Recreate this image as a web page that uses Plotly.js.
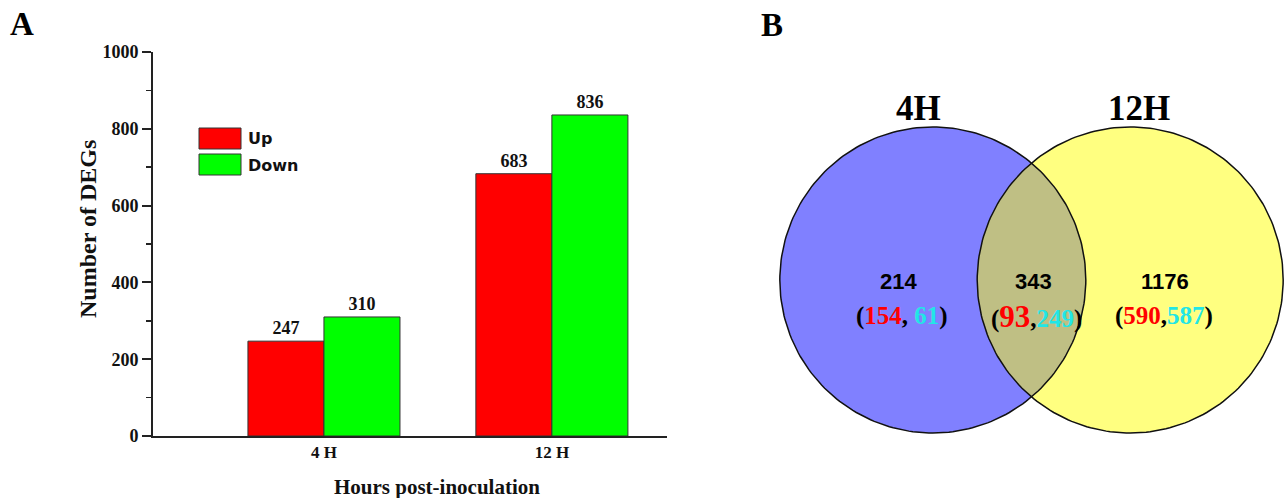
<!DOCTYPE html>
<html>
<head>
<meta charset="utf-8">
<script src="https://cdn.plot.ly/plotly-3.0.1.min.js"></script>
<style>html,body{margin:0;padding:0;background:#fff;}#chart{width:1285px;height:498px;}</style>
</head>
<body>
<div id="chart"></div>
<script>
// ---- Data ----
const categories = ['4 H', '12 H'];
const upCounts = [247, 683];
const downCounts = [310, 836];
const seriesNames = ['Up', 'Down'];

const vennSets = ['4H', '12H'];
const vennTotals = [214, 343, 1176];        // only 4H, both, only 12H
const vennUp = [154, 93, 590];
const vennDown = [61, 249, 587];

// ---- Layout helpers (pixel -> paper) ----
const W = 1285, H = 498;
const px = x => x / W;
const py = y => 1 - y / H;
const serif = 'Liberation Serif, Times New Roman, serif';

const traces = [];
traces.push({
  type: 'bar', x: categories, y: upCounts, name: seriesNames[0],
  marker: {color: '#ff0000', line: {color: '#333', width: 1}},
  text: upCounts.map(String), textposition: 'outside', cliponaxis: false,
  textfont: {family: serif, size: 18, color: '#111', weight: 'bold'},
  xaxis: 'x', yaxis: 'y', hoverinfo: 'skip'
});
traces.push({
  type: 'bar', x: categories, y: downCounts, name: seriesNames[1],
  marker: {color: '#00ff00', line: {color: '#333', width: 1}},
  text: downCounts.map(String), textposition: 'outside', cliponaxis: false,
  textfont: {family: serif, size: 18, color: '#111', weight: 'bold'},
  xaxis: 'x', yaxis: 'y', hoverinfo: 'skip'
});

// ---- Venn geometry (unit radius, 1 unit = 153 px) ----
const R = 1, half = 0.645;
const centers = [-half, half];
function arc(cx, cy, r, a0, a1, n) {
  const xs = [], ys = [];
  for (let i = 0; i <= n; i++) {
    const a = a0 + (a1 - a0) * i / n;
    xs.push(cx + r * Math.cos(a)); ys.push(cy + r * Math.sin(a));
  }
  return [xs, ys];
}
const circleFills = ['#8080ff', '#ffff80'];
centers.forEach((c, i) => {
  const [xs, ys] = arc(c, 0, R, 0, 2 * Math.PI, 240);
  traces.push({type: 'scatter', mode: 'lines', x: xs, y: ys, fill: 'toself',
    fillcolor: circleFills[i], line: {width: 0, color: 'rgba(0,0,0,0)'},
    xaxis: 'x2', yaxis: 'y2', hoverinfo: 'skip'});
});
// lens
const phi = Math.acos(half / R);
const a1 = arc(centers[0], 0, R, -phi, phi, 80);
const a2 = arc(centers[1], 0, R, Math.PI - phi, Math.PI + phi, 80);
traces.push({type: 'scatter', mode: 'lines', x: a1[0].concat(a2[0]), y: a1[1].concat(a2[1]),
  fill: 'toself', fillcolor: '#bfbf84', line: {width: 0, color: 'rgba(0,0,0,0)'},
  xaxis: 'x2', yaxis: 'y2', hoverinfo: 'skip'});
centers.forEach(c => {
  const [xs, ys] = arc(c, 0, R, 0, 2 * Math.PI, 240);
  traces.push({type: 'scatter', mode: 'lines', x: xs, y: ys,
    line: {width: 1.5, color: '#111'}, xaxis: 'x2', yaxis: 'y2', hoverinfo: 'skip'});
});

// Venn axes mapping: centre midpoint at pixel (1031.5, 280), scale 153 px/unit
const S = 153, CX = 1031.5, CY = 280;
const ux = p => (p - CX) / S;
const uy = p => (CY - p) / S;

const annotations = [];
annotations.push({xref: 'paper', yref: 'paper', x: px(22), y: py(24), text: '<b>A</b>', showarrow: false,
  font: {family: serif, size: 33, color: '#000'}, xanchor: 'center', yanchor: 'middle'});
annotations.push({xref: 'paper', yref: 'paper', x: px(772), y: py(25), text: '<b>B</b>', showarrow: false,
  font: {family: serif, size: 33, color: '#000'}, xanchor: 'center', yanchor: 'middle'});
annotations.push({xref: 'paper', yref: 'paper', x: px(437), y: py(487), text: '<b>Hours post-inoculation</b>', showarrow: false,
  font: {family: serif, size: 21, color: '#111'}, xanchor: 'center', yanchor: 'middle'});
annotations.push({xref: 'paper', yref: 'paper', x: px(88), y: py(229), text: '<b>Number of DEGs</b>', showarrow: false,
  textangle: -90, font: {family: serif, size: 24, color: '#111'}, xanchor: 'center', yanchor: 'middle'});
// legend
const legendColors = ['#ff0000', '#00ff00'];
const shapes = [];
[128, 154].forEach((top, i) => {
  shapes.push({type: 'rect', xref: 'paper', yref: 'paper', x0: px(199), x1: px(241), y0: py(top + 21), y1: py(top),
    fillcolor: legendColors[i], line: {color: '#333', width: 1}});
  annotations.push({xref: 'paper', yref: 'paper', x: px(246), y: py(top + 11), text: '<b>' + seriesNames[i] + '</b>', showarrow: false,
    font: {family: 'DejaVu Sans, sans-serif', size: 16, color: '#111'}, xanchor: 'left', yanchor: 'middle'});
});
// venn labels
annotations.push({xref: 'x2', yref: 'y2', x: ux(918), y: uy(108), text: '<b>' + vennSets[0] + '</b>', showarrow: false,
  font: {family: serif, size: 35, color: '#000'}, xanchor: 'center', yanchor: 'middle'});
annotations.push({xref: 'x2', yref: 'y2', x: ux(1139), y: uy(108), text: '<b>' + vennSets[1] + '</b>', showarrow: false,
  font: {family: serif, size: 35, color: '#000'}, xanchor: 'center', yanchor: 'middle'});
const regionX = [898, 1033, 1165];
const subX = [902, 1036, 1164];
const seps = [', ', ',', ','];
const upSizes = [25, 31, 25];
regionX.forEach((x, i) => {
  annotations.push({xref: 'x2', yref: 'y2', x: ux(x), y: uy(281), text: '<b>' + vennTotals[i] + '</b>', showarrow: false,
    font: {family: 'Liberation Sans, Arial, sans-serif', size: 22, color: '#000'}, xanchor: 'center', yanchor: 'middle'});
  annotations.push({xref: 'x2', yref: 'y2', x: ux(subX[i]), y: uy(316),
    text: '<b>(<span style="color:#ff0000;font-size:' + upSizes[i] + 'px">' + vennUp[i] + '</span>' + seps[i] +
          '<span style="color:#22e6e6">' + vennDown[i] + '</span>)</b>', showarrow: false,
    font: {family: serif, size: 25, color: '#000'}, xanchor: 'center', yanchor: 'middle'});
});

const layout = {
  width: W, height: H, margin: {l: 0, r: 0, t: 0, b: 0},
  paper_bgcolor: '#fff', plot_bgcolor: 'rgba(0,0,0,0)', showlegend: false,
  barmode: 'group', bargap: 0.333, bargroupgap: 0,
  xaxis: {domain: [px(153), px(667)], range: [-0.75, 1.505], type: 'category',
    showline: true, linecolor: '#222', linewidth: 2, ticks: '', showgrid: false, zeroline: false,
    tickfont: {family: serif, size: 17, color: '#111', weight: 'bold'}, anchor: 'y', fixedrange: true},
  yaxis: {domain: [py(436), py(52)], range: [0, 1000], showline: true, linecolor: '#222', linewidth: 2,
    ticks: 'outside', ticklen: 9, tickwidth: 2, tickcolor: '#222', dtick: 200, showgrid: false, zeroline: false,
    minor: {ticks: 'outside', ticklen: 5, tickwidth: 1.5, tickcolor: '#222', dtick: 100},
    tickfont: {family: serif, size: 18, color: '#111', weight: 'bold'}, anchor: 'x', fixedrange: true},
  xaxis2: {domain: [px(760), 1], range: [ux(760), ux(1285)], visible: false, showgrid: false, zeroline: false, anchor: 'y2'},
  yaxis2: {domain: [0, 1], range: [uy(498), uy(0)], visible: false, showgrid: false, zeroline: false, anchor: 'x2'},
  shapes: shapes, annotations: annotations
};
Plotly.newPlot('chart', traces, layout, {displayModeBar: false, staticPlot: true});
</script>
</body>
</html>
